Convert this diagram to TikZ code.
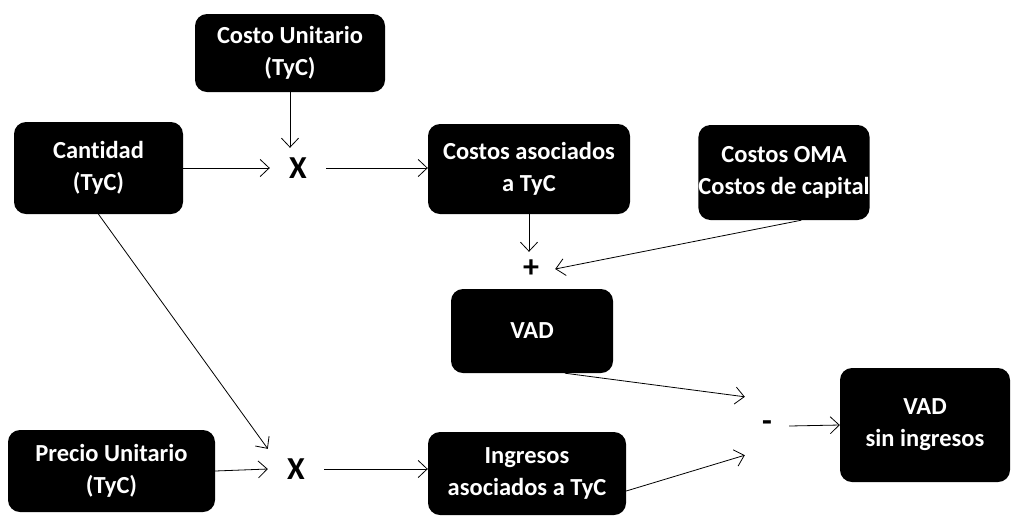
\documentclass[tikz,border=0pt]{standalone}
\usepackage{fontspec}
\setmainfont[Ligatures=NoCommon]{Carlito}
\usetikzlibrary{arrows.meta}
\begin{document}
\begin{tikzpicture}[x=1pt,y=-1pt,
  box/.style={fill=black, rounded corners=12pt, text=white, align=center,
    font=\bfseries\fontsize{24.5}{32}\selectfont, inner sep=0pt},
  op/.style={inner sep=0pt, font=\bfseries\fontsize{32}{32}\selectfont},
  link/.style={-{Straight Barb[length=9pt,width=17pt]}, line width=0.8pt}]
\useasboundingbox (0,0) rectangle (1016,523);

% value boxes
\node[box, minimum width=190, minimum height=78] (cu)   at (290,53)    {Costo Unitario\\(TyC)};
\node[box, minimum width=169, minimum height=92] (cant) at (98.5,168)  {Cantidad\\(TyC)};
\node[box, minimum width=202, minimum height=90] (ca)   at (529,169)   {Costos asociados\\a TyC};
\node[box, minimum width=168, minimum height=95] (oma)  at (784,172.5) {Costos OMA\\Costos de capital};
\node[box, minimum width=162, minimum height=84] (vad)  at (532,331)   {VAD};
\node[box, minimum width=170, minimum height=114] (vsi) at (925,425)   {VAD\\sin ingresos};
\node[box, minimum width=207, minimum height=82] (pu)   at (111.5,471) {Precio Unitario\\(TyC)};
\node[box, minimum width=198, minimum height=83] (ing)  at (527,473.5) {Ingresos\\asociados a TyC};

% operators
\node[op, minimum width=56, minimum height=40] (x1)    at (298,168) {X};
\node[op, minimum width=56, minimum height=40] (x2)    at (296,469) {X};
\node[op, minimum width=48, minimum height=34] (plus)  at (531,269) {+};
\node[op, minimum width=44, minimum height=58] (minus) at (767,426) {-};

% connectors
\draw[link] (cu.south) -- (cu.south |- x1.north);
\draw[link] (cant.east) -- (x1.west);
\draw[link] (x1.east) -- (ca.west |- x1.east);
\draw[link] (ca.south) -- (ca.south |- plus.north);
\draw[link] (oma.-70) -- (plus.east);
\draw[link] (cant.south) -- (x2.north west);
\draw[link] (pu.east) -- (x2.west);
\draw[link] (x2.east) -- (ing.west |- x2.east);
\draw[link] (vad.-52) -- (minus.north west);
\draw[link] (ing.-10) -- (minus.south west);
\draw[link] (minus.east) -- (vsi.west);
\end{tikzpicture}
\end{document}
